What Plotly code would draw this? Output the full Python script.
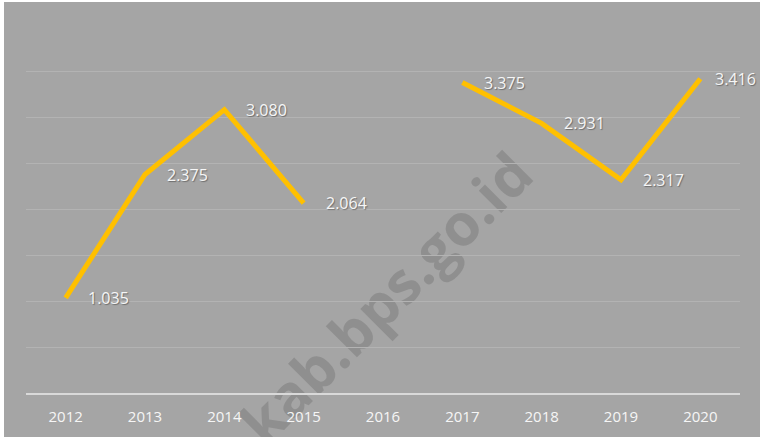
import plotly.graph_objects as go

years = [2012, 2013, 2014, 2015, 2016, 2017, 2018, 2019, 2020]
values = [1035, 2375, 3080, 2064, None, 3375, 2931, 2317, 3416]
watermark = "kab.bps.go.id"

BG = "#a5a5a5"
LINE = "#ffc000"
TXT = "#f6f6f6"
FONT = "Open Sans"

fig = go.Figure()
fig.add_trace(go.Scatter(
    x=years, y=values, mode="lines",
    line=dict(color=LINE, width=5),
    connectgaps=False, hoverinfo="skip", showlegend=False,
))

last = len(years) - 1
for i, (yr, v) in enumerate(zip(years, values)):
    if v is None:
        continue
    fig.add_annotation(
        x=yr, y=v, text=f"{v:,}".replace(",", "."),
        showarrow=False, xanchor="left", yanchor="middle",
        xshift=13 if i == last else 20,
        font=dict(family=FONT, size=16, color=TXT, shadow="1px 1px 1px rgba(0,0,0,0.35)"),
    )

fig.add_shape(
    type="rect", xref="paper", yref="paper",
    x0=0.407, x1=0.607, y0=0.153, y1=0.353,
    line=dict(width=0), fillcolor="rgba(0,0,0,0)", layer="below",
    label=dict(
        text=watermark, textangle=-45, textposition="middle center",
        font=dict(family="Open Sans", size=58, weight="bold", color="rgba(125,125,125,0.55)"),
    ),
)

fig.update_layout(
    width=756, height=435,
    margin=dict(l=22, r=20, t=23, b=44),
    paper_bgcolor=BG, plot_bgcolor=BG,
    xaxis=dict(
        range=[2011.5, 2020.5], tickmode="array", tickvals=years,
        ticktext=[str(y) for y in years],
        showgrid=False, showline=True, linecolor="#d9d9d9", linewidth=2,
        ticks="outside", ticklen=9, tickcolor="rgba(0,0,0,0)",
        tickfont=dict(family=FONT, size=15, color=TXT),
        zeroline=False,
    ),
    yaxis=dict(
        range=[0, 4000], dtick=500, showgrid=True, gridcolor="#b3b3b3", gridwidth=1,
        showticklabels=False, zeroline=False, showline=False,
    ),
)

fig.write_html("out.html", post_script="document.body.style.margin='2px 0 0 4px';")
